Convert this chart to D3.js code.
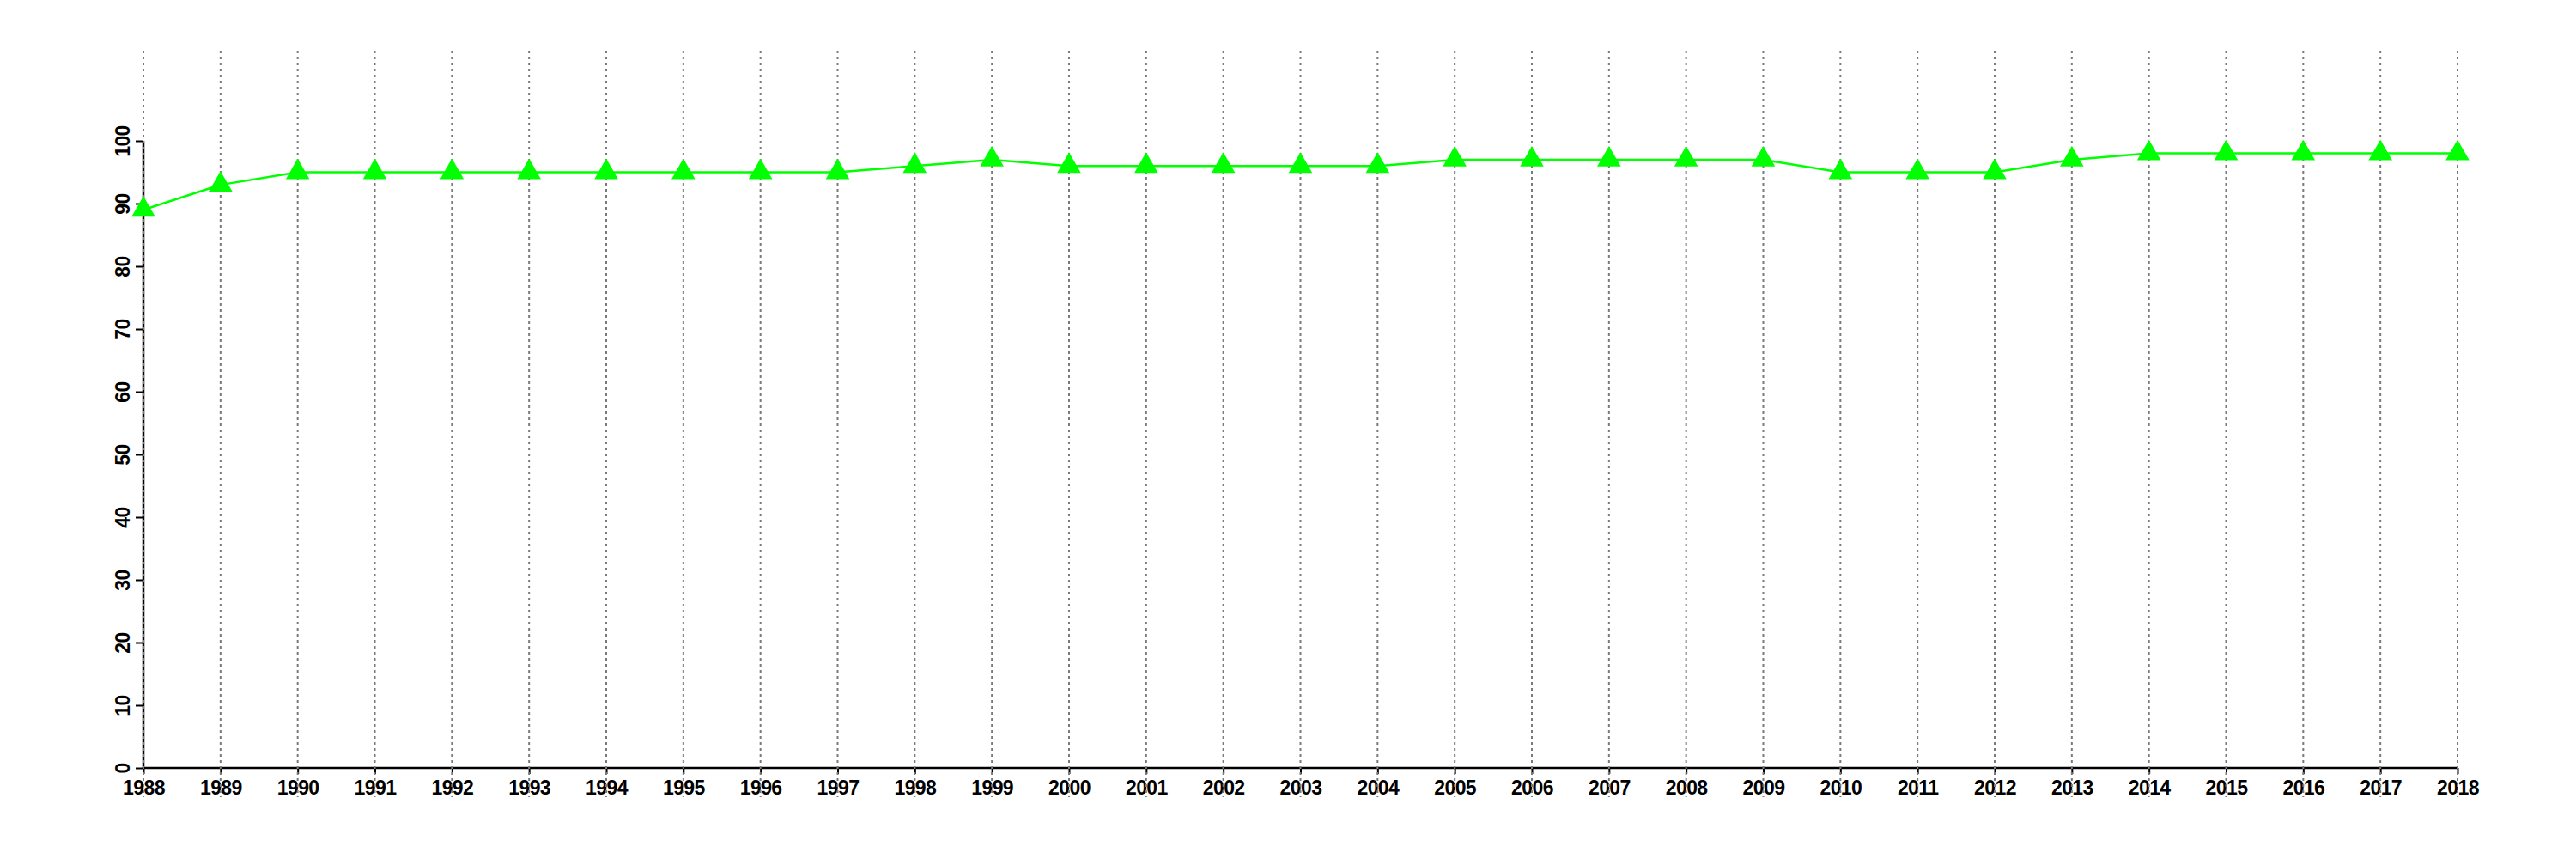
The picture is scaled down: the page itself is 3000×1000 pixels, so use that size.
<!DOCTYPE html>
<html><head><meta charset="utf-8">
<script src="https://cdn.jsdelivr.net/npm/d3@7"></script>
<style>body{margin:0;background:#fff}</style>
</head><body>
<svg id="c" width="3000" height="1000"></svg>
<script>
const years = [1988,1989,1990,1991,1992,1993,1994,1995,1996,1997,1998,1999,2000,2001,2002,2003,2004,2005,2006,2007,2008,2009,2010,2011,2012,2013,2014,2015,2016,2017,2018];
const values = [89,93,95,95,95,95,95,95,95,95,96,97,96,96,96,96,96,97,97,97,97,97,95,95,95,97,98,98,98,98,98];
const yTicks = [0,10,20,30,40,50,60,70,80,90,100];

const svg = d3.select("#c");
const x = d3.scaleLinear().domain([1988,2018]).range([167,2862]);
const y = d3.scaleLinear().domain([0,100]).range([894,164]);
const font = "'Liberation Sans', Arial, sans-serif";

// x axis
const xa = svg.append("g").attr("transform","translate(0,894)")
  .call(d3.axisBottom(x).tickValues(years).tickFormat(d3.format("d")).tickSize(7).tickPadding(6));
xa.select(".domain").attr("stroke","#000").attr("stroke-width",2.5).attr("d",`M${x(1988)},0H${x(2018)}`);
xa.selectAll(".tick line").attr("stroke","#000").attr("stroke-width",2);
xa.selectAll(".tick text").attr("font-family",font).attr("font-weight","bold").attr("font-size",23).attr("fill","#000").attr("letter-spacing","-0.6px").attr("dy","0.78em");

// y axis
const ya = svg.append("g").attr("transform",`translate(${x(1988)},0)`)
  .call(d3.axisLeft(y).tickValues(yTicks).tickSize(9).tickFormat(d3.format("d")));
ya.select(".domain").attr("stroke","#000").attr("stroke-width",2.5).attr("d",`M0,${y(0)}V${y(100)}`);
ya.selectAll(".tick line").attr("stroke","#000").attr("stroke-width",2);
ya.selectAll(".tick text")
  .attr("font-family",font).attr("font-weight","bold").attr("font-size",23).attr("fill","#000").attr("letter-spacing","-0.6px")
  .attr("x",null).attr("dy",null)
  .attr("text-anchor","middle")
  .attr("transform","translate(-16,0) rotate(-90)");

// grid
svg.append("g").selectAll("line").data(years).join("line")
  .attr("x1",d=>x(d)).attr("x2",d=>x(d))
  .attr("y1",59).attr("y2",928)
  .attr("stroke","#7a7a7a").attr("stroke-width",2).attr("stroke-dasharray","3,4");

// line
const pts = years.map((yr,i)=>({yr, v:values[i]}));
svg.append("path").datum(pts)
  .attr("fill","none").attr("stroke","#00ff00").attr("stroke-width",2.5)
  .attr("d", d3.line().x(d=>x(d.yr)).y(d=>y(d.v)));

svg.append("g").selectAll("path").data(pts).join("path")
  .attr("transform",d=>`translate(${x(d.yr)},${y(d.v)})`)
  .attr("d", d3.symbol().type(d3.symbolTriangle).size(330))
  .attr("fill","#00ff00");
</script>
</body></html>
